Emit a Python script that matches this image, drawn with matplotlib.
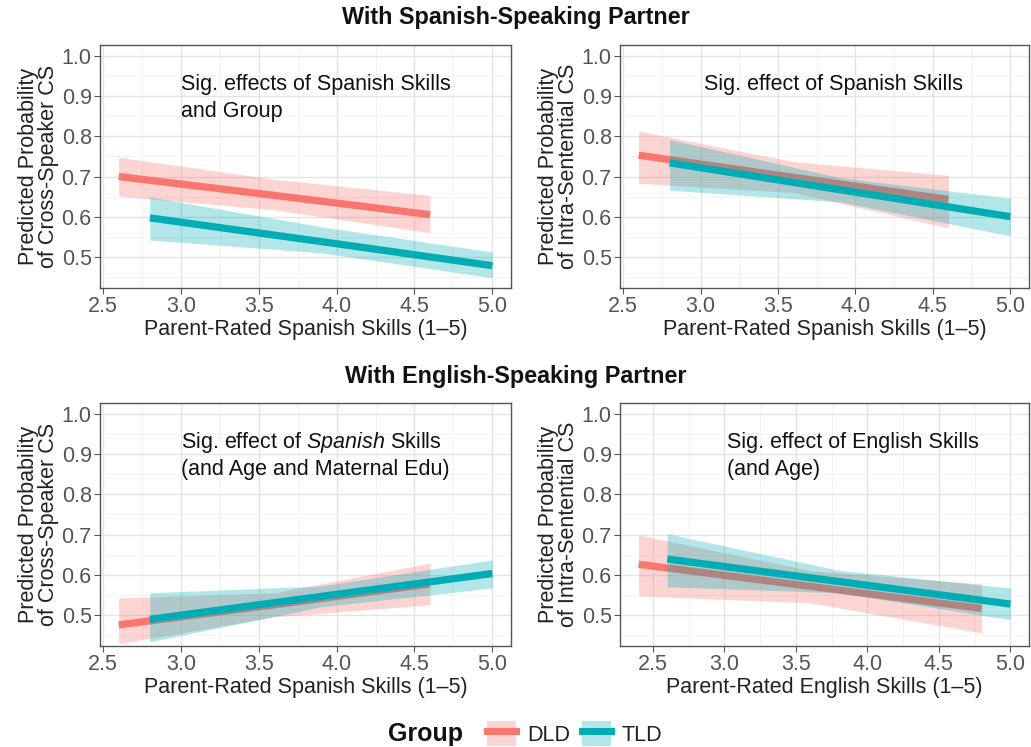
import matplotlib.pyplot as plt
from matplotlib.patches import Patch
from matplotlib.lines import Line2D
from matplotlib.ticker import MultipleLocator

plt.rcParams['font.family'] = ['Liberation Sans', 'DejaVu Sans']
plt.rcParams['mathtext.fontset'] = 'custom'
plt.rcParams['mathtext.it'] = 'Liberation Sans:italic'
plt.rcParams['mathtext.rm'] = 'Liberation Sans'

dld_col = '#F8766D'
tld_col = '#00ADB5'

# each panel: x at start / middle / end, fitted line and ribbon bounds
p1_dld_x = [2.6, 3.6, 4.6]
p1_dld_fit = [0.700, 0.653, 0.605]
p1_dld_lo = [0.651, 0.617, 0.560]
p1_dld_hi = [0.748, 0.693, 0.653]
p1_tld_x = [2.8, 3.9, 5.0]
p1_tld_fit = [0.597, 0.538, 0.478]
p1_tld_lo = [0.542, 0.510, 0.448]
p1_tld_hi = [0.649, 0.575, 0.512]

p2_dld_x = [2.6, 3.6, 4.6]
p2_dld_fit = [0.753, 0.698, 0.643]
p2_dld_lo = [0.683, 0.660, 0.572]
p2_dld_hi = [0.813, 0.737, 0.703]
p2_tld_x = [2.8, 3.9, 5.0]
p2_tld_fit = [0.734, 0.667, 0.600]
p2_tld_lo = [0.666, 0.637, 0.552]
p2_tld_hi = [0.792, 0.697, 0.646]

p3_dld_x = [2.6, 3.6, 4.6]
p3_dld_fit = [0.475, 0.525, 0.577]
p3_dld_lo = [0.428, 0.495, 0.525]
p3_dld_hi = [0.542, 0.555, 0.629]
p3_tld_x = [2.8, 3.9, 5.0]
p3_tld_fit = [0.489, 0.546, 0.603]
p3_tld_lo = [0.433, 0.520, 0.567]
p3_tld_hi = [0.555, 0.572, 0.637]

p4_dld_x = [2.4, 3.6, 4.8]
p4_dld_fit = [0.626, 0.571, 0.516]
p4_dld_lo = [0.547, 0.530, 0.455]
p4_dld_hi = [0.699, 0.610, 0.577]
p4_tld_x = [2.6, 3.8, 5.0]
p4_tld_fit = [0.639, 0.583, 0.527]
p4_tld_lo = [0.570, 0.555, 0.488]
p4_tld_hi = [0.702, 0.611, 0.567]

panels = [
    (p1_dld_x, p1_dld_fit, p1_dld_lo, p1_dld_hi, p1_tld_x, p1_tld_fit, p1_tld_lo, p1_tld_hi),
    (p2_dld_x, p2_dld_fit, p2_dld_lo, p2_dld_hi, p2_tld_x, p2_tld_fit, p2_tld_lo, p2_tld_hi),
    (p3_dld_x, p3_dld_fit, p3_dld_lo, p3_dld_hi, p3_tld_x, p3_tld_fit, p3_tld_lo, p3_tld_hi),
    (p4_dld_x, p4_dld_fit, p4_dld_lo, p4_dld_hi, p4_tld_x, p4_tld_fit, p4_tld_lo, p4_tld_hi),
]

ylabels = ['Predicted Probability\nof Cross-Speaker CS', 'Predicted Probability\nof Intra-Sentential CS',
           'Predicted Probability\nof Cross-Speaker CS', 'Predicted Probability\nof Intra-Sentential CS']
xlabels = ['Parent-Rated Spanish Skills (1\u20135)', 'Parent-Rated Spanish Skills (1\u20135)',
           'Parent-Rated Spanish Skills (1\u20135)', 'Parent-Rated English Skills (1\u20135)']
notes = [
    ['Sig. effects of Spanish Skills', 'and Group'],
    ['Sig. effect of Spanish Skills'],
    [r'Sig. effect of $\mathit{Spanish}$ Skills', '(and Age and Maternal Edu)'],
    ['Sig. effect of English Skills', '(and Age)'],
]
note_x = [3.0, 3.02, 3.0, 3.015]
xlims = [(2.48, 5.12), (2.48, 5.12), (2.48, 5.12), (2.27, 5.13)]

# axes boxes in figure fractions
boxes = [
    [0.097, 0.6145, 0.3986, 0.3253],
    [0.6014, 0.6145, 0.3966, 0.3253],
    [0.097, 0.1352, 0.3986, 0.3253],
    [0.6014, 0.1352, 0.3966, 0.3253],
]

fig = plt.figure(figsize=(10.31, 7.47), dpi=100)

for i, (dx, dfit, dlo, dhi, tx, tfit, tlo, thi) in enumerate(panels):
    ax = fig.add_axes(boxes[i])
    ax.fill_between(dx, dlo, dhi, color=dld_col, alpha=0.3, lw=0, zorder=2)
    ax.plot(dx, dfit, color=dld_col, lw=5.2, solid_capstyle='butt', zorder=3)
    ax.fill_between(tx, tlo, thi, color=tld_col, alpha=0.3, lw=0, zorder=4)
    ax.plot(tx, tfit, color=tld_col, lw=5.2, solid_capstyle='butt', zorder=5)

    ax.set_xlim(*xlims[i])
    ax.set_ylim(0.4225, 1.0275)
    ax.xaxis.set_major_locator(MultipleLocator(0.5))
    ax.xaxis.set_minor_locator(MultipleLocator(0.25))
    ax.yaxis.set_major_locator(MultipleLocator(0.1))
    ax.yaxis.set_minor_locator(MultipleLocator(0.05))
    ax.xaxis.set_major_formatter(plt.FormatStrFormatter('%.1f'))
    ax.yaxis.set_major_formatter(plt.FormatStrFormatter('%.1f'))
    ax.grid(which='major', color='#e3e3e3', lw=1.0, zorder=0)
    ax.grid(which='minor', color='#f0f0f0', lw=0.6, zorder=0)
    ax.set_axisbelow(True)
    for s in ax.spines.values():
        s.set_color('#555555')
        s.set_linewidth(1.0)
    ax.tick_params(which='major', length=4, color='#555555', labelcolor='#555555', labelsize=15.5, pad=2)
    ax.tick_params(which='minor', length=0)
    ax.set_xlabel(xlabels[i], fontsize=15.5, color='#222222', labelpad=1)
    ax.set_ylabel(ylabels[i], fontsize=15.5, color='#222222', labelpad=2, linespacing=0.92)

    y0 = 0.928
    for line in notes[i]:
        ax.text(note_x[i], y0, line, fontsize=15.5, color='#111111', va='center', ha='left')
        y0 -= 0.066

fig.text(0.5, 0.976, 'With Spanish-Speaking Partner', ha='center', va='center',
         fontsize=16.8, fontweight='bold', color='#111111')
fig.text(0.5, 0.496, 'With English-Speaking Partner', ha='center', va='center',
         fontsize=16.8, fontweight='bold', color='#111111')

# legend at the bottom
fig.text(0.449, 0.018, 'Group', ha='right', va='center', fontsize=18, fontweight='bold', color='#111111')
handles = [
    (Patch(facecolor=dld_col, alpha=0.3, lw=0), Line2D([], [], color=dld_col, lw=5)),
    (Patch(facecolor=tld_col, alpha=0.3, lw=0), Line2D([], [], color=tld_col, lw=5)),
]
fig.legend(handles, ['DLD', 'TLD'], loc='center left', bbox_to_anchor=(0.462, 0.018), ncol=2,
           frameon=False, fontsize=15.5, handlelength=1.35, handleheight=1.35, handletextpad=0.5,
           columnspacing=0.55, borderpad=0, labelcolor='#222222')

fig.savefig('out.png', dpi=100)
